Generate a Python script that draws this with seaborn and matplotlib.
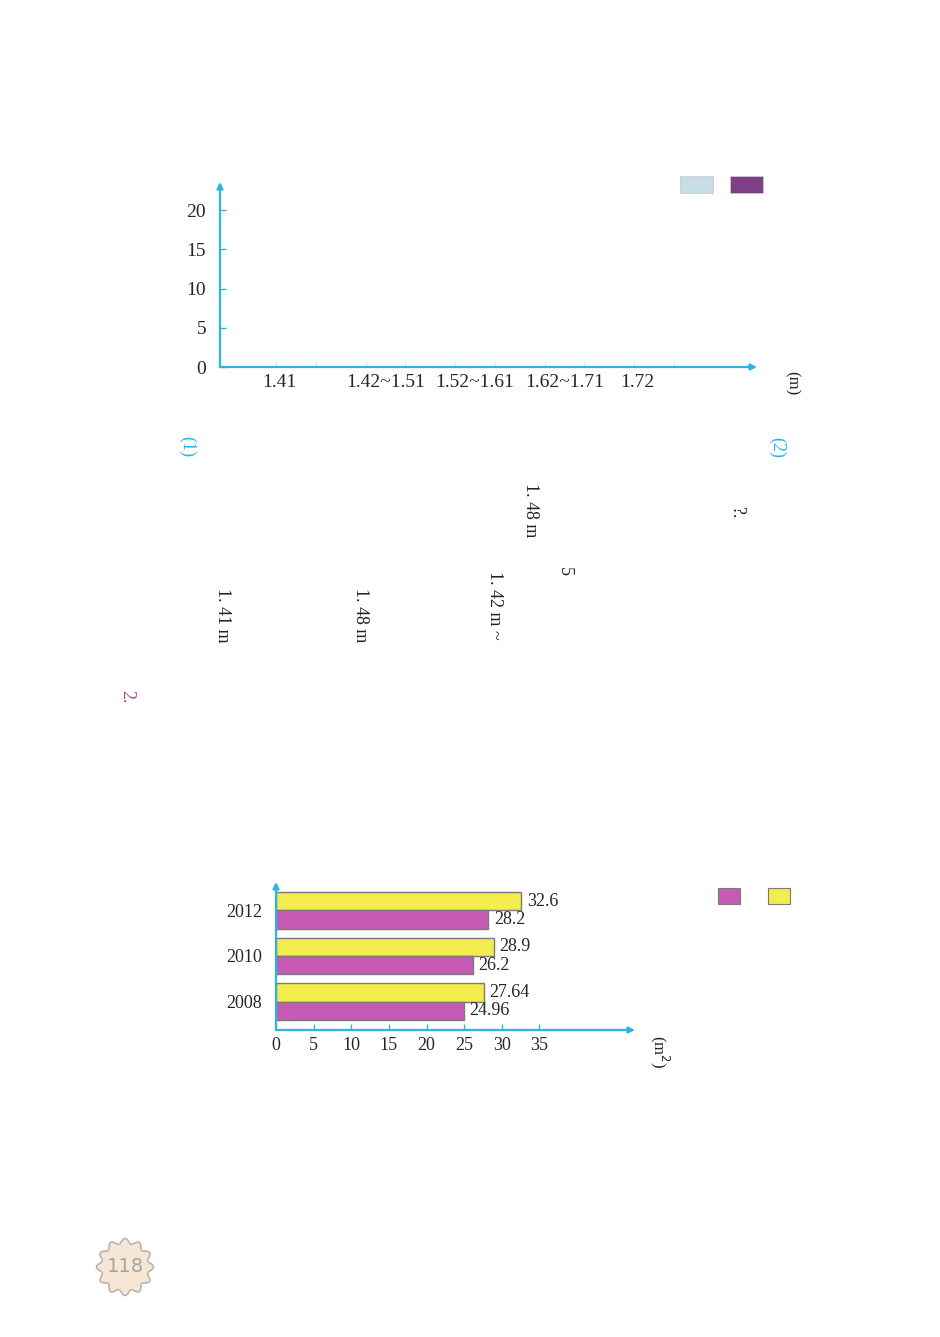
import numpy as np
import pandas as pd
import matplotlib.pyplot as plt
from matplotlib.patches import Rectangle, Polygon
import seaborn as sns

# Chart 1 (empty frequency chart for student heights)
height_groups = ["1.41", "1.42~1.51", "1.52~1.61", "1.62~1.71", "1.72"]
height_series = ["boys", "girls"]
height_counts_boys = [0, 0, 0, 0, 0]
height_counts_girls = [0, 0, 0, 0, 0]
freq_ticks = [0, 5, 10, 15, 20]

# Chart 2 (per-capita housing area, m2)
years = ["2012", "2010", "2008"]
area_series = ["urban", "rural"]
area_urban = [32.6, 28.9, 27.64]
area_rural = [28.2, 26.2, 24.96]
area_ticks = [0, 5, 10, 15, 20, 25, 30, 35]

sns.set_theme(style="white")
plt.rcParams["font.family"] = ["Liberation Serif", "DejaVu Serif"]

W, H = 940, 1337
cyan = "#2cb5e3"
pal1 = {"boys": "#c6dde6", "girls": "#7e3f86"}
pal2 = {"urban": "#f2ec4c", "rural": "#c65bb6"}


def fx(px):
    return px / W


def fy(py):
    return 1 - py / H


def axes_box(left, top, right, bottom):
    return [fx(left), fy(bottom), (right - left) / W, (bottom - top) / H]


def draw_arrows(ax):
    for sp in ax.spines.values():
        sp.set_visible(False)
    kw = dict(arrowstyle="-|>", color=cyan, lw=1.6, mutation_scale=9, shrinkA=0, shrinkB=0)
    ax.annotate("", xy=(1, 0), xytext=(0, 0), xycoords="axes fraction", arrowprops=kw)
    ax.annotate("", xy=(0, 1), xytext=(0, 0), xycoords="axes fraction", arrowprops=kw)


fig = plt.figure(figsize=(W / 100, H / 100), dpi=100)
fig.patch.set_facecolor("white")

# ---------- chart 1 ----------
ax1 = fig.add_axes(axes_box(220, 182, 757, 367))
df1 = pd.DataFrame({
    "group": height_groups * 2,
    "count": height_counts_boys + height_counts_girls,
    "series": ["boys"] * 5 + ["girls"] * 5,
})
sns.barplot(data=df1, x="group", y="count", hue="series", hue_order=height_series,
            order=height_groups, palette=pal1, linewidth=0, legend=False, ax=ax1)
ax1.set_xlim(-0.85, 5.15)
ax1.set_ylim(0, 23.6)
ax1.set_yticks(freq_ticks)
ax1.set_yticklabels([str(t) for t in freq_ticks])
ax1.set_xlabel("")
ax1.set_ylabel("")
ax1.tick_params(axis="y", direction="in", length=4, width=1, color=cyan,
                labelsize=14, pad=10, left=True)
ax1.tick_params(axis="x", length=0, labelsize=14, pad=5)
labs = ax1.get_xticklabels()
labs[0].set_ha("right")
labs[-1].set_ha("right")
# faint bar-slot ticks along the baseline
minor = sorted([i + d for i in range(len(height_groups)) for d in (-0.22, 0, 0.22)])
ax1.set_xticks(minor, minor=True)
ax1.tick_params(axis="x", which="minor", direction="in", length=5, color="#dceff7", bottom=True)
ax1.set_facecolor("none")
draw_arrows(ax1)

fig.text(fx(792), fy(383), "(m)", rotation=-90, ha="center", va="center", fontsize=12)

for s, x0 in zip(height_series, [680, 730]):
    fig.add_artist(Rectangle((fx(x0), fy(193)), 33 / W, 17 / H, transform=fig.transFigure,
                             facecolor=pal1[s], edgecolor="#cccccc", lw=0.6))

# ---------- chart 2 ----------
ax2 = fig.add_axes(axes_box(276, 882, 635, 1030))
df2 = pd.DataFrame({
    "year": years * 2,
    "area": area_urban + area_rural,
    "series": ["urban"] * 3 + ["rural"] * 3,
})
sns.barplot(data=df2, y="year", x="area", hue="series", hue_order=area_series,
            order=years, orient="h", palette=pal2, edgecolor="#7a7a7a",
            linewidth=1, saturation=1, legend=False, ax=ax2)
ax2.set_xlim(0, 47.7)
ax2.set_ylim(2.626, -0.626)
ax2.set_xticks(area_ticks)
ax2.set_xticklabels([str(t) for t in area_ticks])
ax2.set_xlabel("")
ax2.set_ylabel("")
ax2.tick_params(axis="x", direction="in", length=4, width=1, color=cyan,
                labelsize=13, pad=5, bottom=True)
ax2.tick_params(axis="y", length=0, labelsize=13, pad=10)
for c in ax2.containers:
    ax2.bar_label(c, fmt="%g", padding=4, fontsize=13)
ax2.set_facecolor("none")
draw_arrows(ax2)

fig.text(fx(660), fy(1052), "(m$^2$)", rotation=-90, ha="center", va="center", fontsize=12)

for s, x0 in zip(area_series, [768, 718]):
    fig.add_artist(Rectangle((fx(x0), fy(904)), 22 / W, 16 / H, transform=fig.transFigure,
                             facecolor=pal2[s], edgecolor="#7a7a7a", lw=0.8))

# ---------- page text fragments ----------
frags = [
    (777, 447, "(2)", cyan),
    (187, 447, "(1)", cyan),
    (127, 697, "2.", "#9b4f9b"),
    (737, 512, "?.", "#222222"),
    (530, 510, "1. 48 m", "#222222"),
    (495, 605, "1. 42 m ~", "#222222"),
    (564, 572, "5", "#222222"),
    (360, 615, "1. 48 m", "#222222"),
    (223, 615, "1. 41 m", "#222222"),
]
for x, y, t, col in frags:
    fig.text(fx(x), fy(y), t, rotation=-90, ha="center", va="center", fontsize=13, color=col)

# ---------- page number badge ----------
th = np.linspace(0, 2 * np.pi, 400)
r = 26 + 2.5 * np.cos(12 * th)
pts = np.column_stack([fx(125 + r * np.cos(th)), fy(1267 + r * np.sin(th))])
fig.add_artist(Polygon(pts, closed=True, transform=fig.transFigure,
                       facecolor="#f8e6d4", edgecolor="#b5b5b5", lw=1.2))
fig.text(fx(125), fy(1267), "118", ha="center", va="center", fontsize=14,
         color="#a3a3a3", family=["DejaVu Sans"])

plt.savefig("out.png", dpi=100)
plt.close()
